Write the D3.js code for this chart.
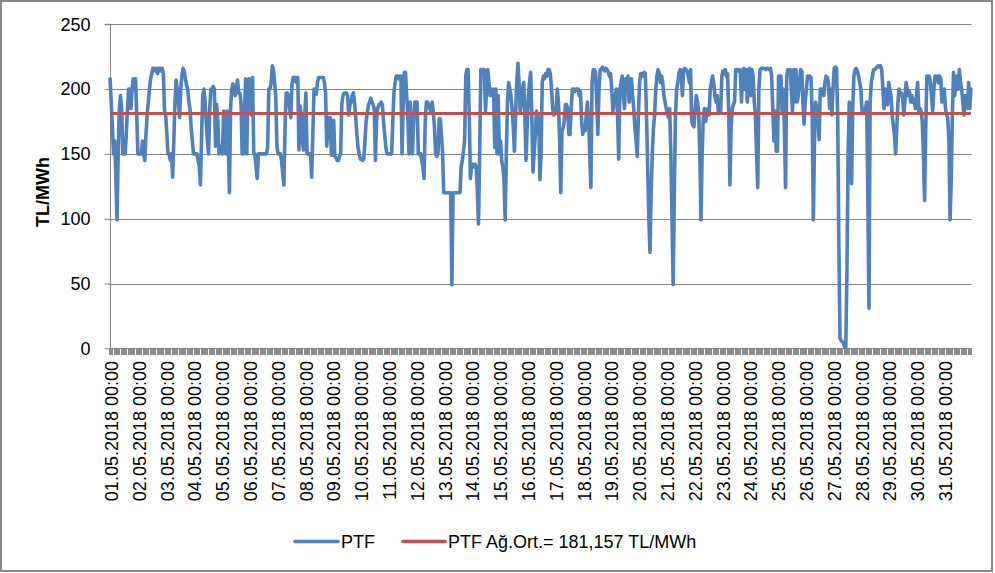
<!DOCTYPE html>
<html>
<head>
<meta charset="utf-8">
<script src="https://cdn.jsdelivr.net/npm/d3@7"></script>
<style>
html,body{margin:0;padding:0;background:#fff;}
svg{display:block;font-family:"Liberation Sans",Arial,sans-serif;}
</style>
</head>
<body>
<svg id="chart" width="995" height="573"></svg>
<script>
// Hourly PTF values (TL/MWh), May 2018, one array per day (24 hours each)
const day01 = [208,190,170,150,160,130,99,150,185,195,185,150,150,150,165,185,200,200,185,200,208,200,208,180];
const day02 = [150,150,150,150,160,150,145,165,180,190,200,208,212,216,216,214,216,212,216,216,214,216,212,183];
const day03 = [180,165,150,150,145,150,132,160,190,207,200,190,178,200,210,216,214,208,203,200,190,185,170,160];
const day04 = [150,150,150,150,145,140,126,165,195,200,190,175,160,150,185,200,200,202,200,156,188,175,150,156];
const day05 = [152,150,183,165,150,183,160,120,185,200,204,200,195,200,207,197,197,190,150,150,180,208,150,205];
const day06 = [208,205,180,209,150,150,140,131,150,150,150,150,150,150,150,150,155,200,200,205,218,215,205,195];
const day07 = [156,150,150,150,145,135,126,170,197,197,195,185,178,204,209,206,209,205,209,153,187,180,160,153];
const day08 = [180,197,150,150,150,150,132,165,200,198,196,205,209,209,209,209,209,205,197,156,170,178,178,149];
const day09 = [149,176,148,147,145,145,148,150,188,195,197,197,197,195,180,188,190,195,197,190,178,165,155,150];
const day10 = [146,146,145,146,160,175,182,188,190,193,190,188,185,145,175,185,188,188,190,188,175,165,155,150];
const day11 = [150,150,150,150,175,197,205,210,210,208,210,210,150,190,213,213,195,180,150,190,170,150,175,190];
const day12 = [190,190,150,150,150,145,140,131,175,190,190,188,185,182,190,182,170,150,148,150,177,177,165,150];
const day13 = [120,120,120,120,120,120,120,49,120,120,120,120,120,120,120,140,145,152,160,210,215,215,180,131];
const day14 = [142,142,140,142,140,120,96,150,215,215,213,215,183,200,215,205,195,200,195,200,155,200,150,195];
const day15 = [150,160,145,140,130,99,150,190,205,200,195,185,170,152,180,205,220,205,183,190,200,205,180,145];
const day16 = [170,195,205,213,180,136,150,165,183,180,175,130,150,205,210,208,212,210,215,215,212,200,185,180];
const day17 = [182,185,200,190,160,120,167,170,175,188,188,185,165,165,185,200,200,198,200,200,200,195,198,175];
const day18 = [165,170,168,180,190,175,150,124,205,215,215,213,190,165,200,215,215,217,215,214,216,215,213,210];
const day19 = [212,200,183,190,195,200,180,146,200,205,210,195,185,208,200,210,190,205,208,195,185,170,160,148];
const day20 = [180,205,212,212,210,213,212,180,140,101,74,120,150,170,180,200,210,215,212,205,210,205,195,190];
const day21 = [185,180,178,185,150,100,49,120,180,200,205,212,215,210,195,215,216,215,214,210,205,215,175,172];
const day22 = [171,185,195,190,183,150,99,150,178,185,175,180,185,180,200,205,210,205,195,190,195,183,190,183];
const day23 = [210,214,212,215,210,212,180,126,170,185,188,190,215,215,214,215,212,190,215,216,200,215,190,215];
const day24 = [216,195,215,210,190,180,150,124,200,215,216,216,216,216,215,216,216,215,216,210,183,160,183,152];
const day25 = [152,210,208,210,183,200,170,124,210,215,212,215,200,183,215,190,215,190,195,205,215,214,190,173];
const day26 = [190,200,210,208,210,209,180,99,160,190,185,180,161,200,198,200,195,205,210,209,205,185,200,180];
const day27 = [200,216,217,216,180,80,8,6,5,4,1,1,60,150,190,175,127,185,210,215,216,214,210,205];
const day28 = [200,183,185,183,185,190,120,31,190,205,210,215,215,216,217,218,217,218,215,200,185,200,195,188];
const day29 = [205,200,195,180,172,165,150,170,190,200,195,197,195,180,190,205,200,195,198,190,195,190,192,185];
const day30 = [195,205,183,185,183,175,150,114,170,210,208,210,205,195,183,200,210,208,210,205,210,208,190,195];
const day31 = [200,185,180,178,160,99,130,180,213,195,205,210,200,215,205,200,190,180,195,190,185,205,185,200];

const ptf = [].concat(day01,day02,day03,day04,day05,day06,day07,day08,day09,day10,
  day11,day12,day13,day14,day15,day16,day17,day18,day19,day20,
  day21,day22,day23,day24,day25,day26,day27,day28,day29,day30,day31);

const dayLabels = ["01.05.2018 00:00","02.05.2018 00:00","03.05.2018 00:00","04.05.2018 00:00",
  "05.05.2018 00:00","06.05.2018 00:00","07.05.2018 00:00","08.05.2018 00:00","09.05.2018 00:00",
  "10.05.2018 00:00","11.05.2018 00:00","12.05.2018 00:00","13.05.2018 00:00","14.05.2018 00:00",
  "15.05.2018 00:00","16.05.2018 00:00","17.05.2018 00:00","18.05.2018 00:00","19.05.2018 00:00",
  "20.05.2018 00:00","21.05.2018 00:00","22.05.2018 00:00","23.05.2018 00:00","24.05.2018 00:00",
  "25.05.2018 00:00","26.05.2018 00:00","27.05.2018 00:00","28.05.2018 00:00","29.05.2018 00:00",
  "30.05.2018 00:00","31.05.2018 00:00"];
const average = 181.157;
const yTicks = [0,50,100,150,200,250];
const seriesNames = ["PTF","PTF Ağ.Ort.= 181,157 TL/MWh"];
const yTitle = "TL/MWh";

const svg = d3.select("#chart");
const plotLeft = 109.5, plotRight = 971.5, plotTop = 24.3, plotBottom = 348.3;
const blue = "#4F81BD", red = "#C0504D", grid = "#868686";

// outer border
svg.append("rect").attr("x",1).attr("y",1).attr("width",991).attr("height",570)
  .attr("fill","#fff").attr("stroke","#898989").attr("stroke-width",2);

const n = ptf.length;
const x = d3.scalePoint().domain(d3.range(n)).range([plotLeft, plotRight]).padding(0.5);
const step = x.step();
const y = d3.scaleLinear().domain([0,250]).range([plotBottom, plotTop]);

// gridlines
svg.append("g").selectAll("line").data(yTicks).join("line")
  .attr("x1", plotLeft).attr("x2", plotRight)
  .attr("y1", d => Math.round(y(d))+0.5).attr("y2", d => Math.round(y(d))+0.5)
  .attr("stroke", grid).attr("stroke-width", 1);

// y axis
const yAxis = d3.axisLeft(y).tickValues(yTicks).tickSize(6).tickPadding(14).tickFormat(d3.format("d"));
const gy = svg.append("g").attr("transform", `translate(${Math.round(plotLeft)+0.5},0)`).call(yAxis);
gy.select(".domain").attr("stroke", grid).attr("d", `M-6,${y(250)}H0V${y(0)}`);
gy.selectAll(".tick line").attr("stroke", grid);
gy.selectAll(".tick text").attr("font-size", 18).attr("fill","#000")
  .attr("font-family","'Liberation Sans',Arial,sans-serif");

// x axis tick marks (one per hour boundary)
const tickPos = d3.range(n+1).map(i => plotLeft + i*step);
svg.append("g").attr("shape-rendering","crispEdges").selectAll("line").data(tickPos).join("line")
  .attr("x1", d => d).attr("x2", d => d)
  .attr("y1", plotBottom).attr("y2", plotBottom + 6.5)
  .attr("stroke", "#8c8c8c").attr("stroke-width", 1);
svg.append("line").attr("x1", plotLeft).attr("x2", plotRight)
  .attr("y1", Math.round(plotBottom)+0.5).attr("y2", Math.round(plotBottom)+0.5)
  .attr("stroke", grid);

// x labels
svg.append("g").selectAll("text").data(dayLabels).join("text")
  .attr("transform", (d,i) => `translate(${x(i*24)+1.5},361) rotate(-90)`)
  .attr("text-anchor","end").attr("dy","0.35em")
  .attr("font-size", 18).attr("fill","#000")
  .text(d => d);

// y title
svg.append("text").attr("transform", "translate(43,192) rotate(-90)")
  .attr("text-anchor","middle").attr("dy","0.35em")
  .attr("font-size", 18).attr("font-weight","bold").attr("fill","#000")
  .text(yTitle);

// PTF line
const line = d3.line().x((d,i) => x(i)).y(d => y(d));
svg.append("path").datum(ptf).attr("d", line)
  .attr("fill","none").attr("stroke", blue).attr("stroke-width", 3.6)
  .attr("stroke-linejoin","round").attr("stroke-linecap","round");

// average line
svg.append("line").attr("x1", x(0)).attr("x2", x(n-1))
  .attr("y1", y(average)).attr("y2", y(average))
  .attr("stroke", red).attr("stroke-width", 3);

// legend
const legend = [
  {name: seriesNames[0], color: blue, x1: 295, x2: 338, tx: 341},
  {name: seriesNames[1], color: red, x1: 403, x2: 445, tx: 448}
];
const lg = svg.append("g");
legend.forEach(l => {
  lg.append("line").attr("x1", l.x1).attr("x2", l.x2).attr("y1", 541.5).attr("y2", 541.5)
    .attr("stroke", l.color).attr("stroke-width", 3.5).attr("stroke-linecap","round");
  lg.append("text").attr("x", l.tx).attr("y", 541.5).attr("dy","0.35em")
    .attr("font-size", 18).attr("fill","#000").text(l.name);
});
</script>
</body>
</html>
